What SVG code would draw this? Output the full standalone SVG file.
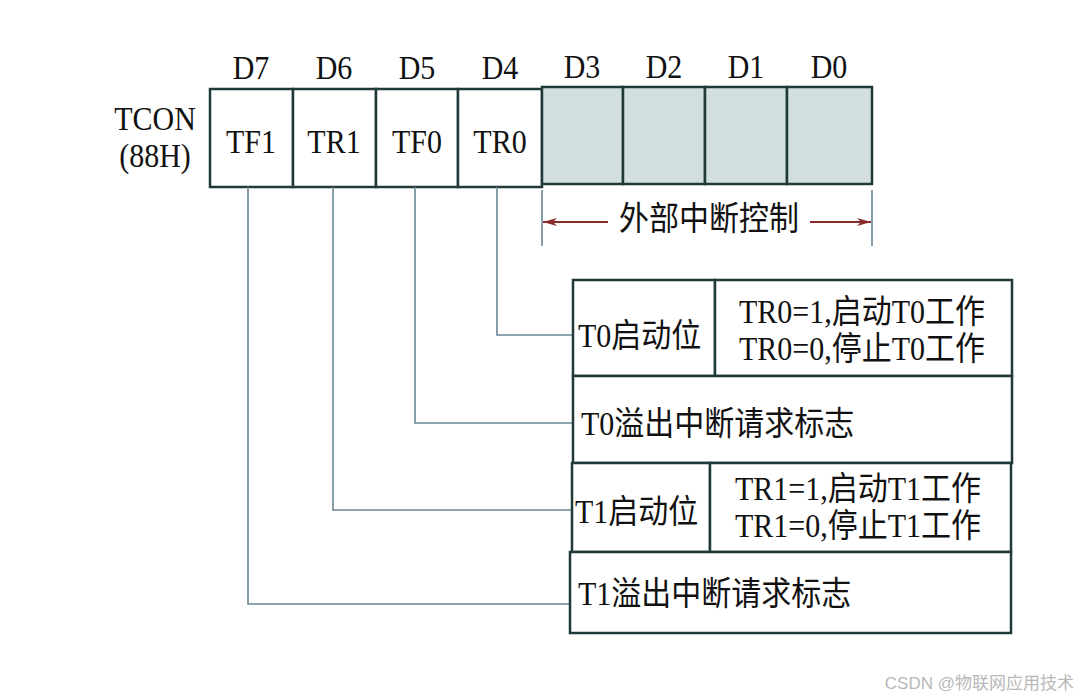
<svg xmlns="http://www.w3.org/2000/svg" width="1082" height="699" viewBox="0 0 1082 699">
<defs>
<style>
.t{font-family:"Liberation Serif","Noto Sans CJK SC",serif;font-size:30px;fill:#111;}
.c{text-anchor:middle;}
.box{fill:#fff;stroke:#1f3a38;stroke-width:2.5;}
.sh{fill:#d3dfdf;stroke:#1f3a38;stroke-width:2.5;}
.ln{fill:none;stroke:#6a8796;stroke-width:1.6;}
.ar{fill:none;stroke:#8b2a2a;stroke-width:2;}
</style>
<marker id="ah" viewBox="0 0 14 8" refX="14" refY="4" markerWidth="14" markerHeight="8" markerUnits="userSpaceOnUse" orient="auto-start-reverse">
<path d="M0,0 L14,4 L0,8 L4,4 Z" fill="#8b2a2a"/>
</marker>
</defs>
<rect width="1082" height="699" fill="#fff"/>

<g id="register">
<text class="t" x="155" y="130" text-anchor="middle" transform="matrix(1,0,0,1.15,0,-19.5)">TCON</text>
<text class="t" x="155" y="167" text-anchor="middle" transform="matrix(1,0,0,1.15,0,-25.05)">(88H)</text>
<g class="t c" transform="matrix(1,0,0,1.15,0,-11.85)">
<text x="251" y="79">D7</text>
<text x="334" y="79">D6</text>
<text x="417" y="79">D5</text>
<text x="500" y="79">D4</text>
<text x="582" y="78">D3</text>
<text x="664" y="78">D2</text>
<text x="746" y="78">D1</text>
<text x="829" y="78">D0</text>
</g>
<rect class="box" x="210" y="89" width="83" height="98"/>
<rect class="box" x="293" y="89" width="83" height="98"/>
<rect class="box" x="376" y="89" width="82" height="98"/>
<rect class="box" x="458" y="89" width="84" height="98"/>
<rect class="sh" x="542" y="87" width="81" height="97"/>
<rect class="sh" x="623" y="87" width="82" height="97"/>
<rect class="sh" x="705" y="87" width="82" height="97"/>
<rect class="sh" x="787" y="87" width="85" height="97"/>
<g class="t c" transform="matrix(1,0,0,1.15,0,-22.95)">
<text x="251" y="153">TF1</text>
<text x="334" y="153">TR1</text>
<text x="417" y="153">TF0</text>
<text x="500" y="153">TR0</text>
</g>
</g>

<g id="ext-control">
<line class="ln" x1="542" y1="190" x2="542" y2="246"/>
<line class="ln" x1="872" y1="190" x2="872" y2="246"/>
<line class="ar" x1="543" y1="222" x2="608" y2="222" marker-start="url(#ah)"/>
<line class="ar" x1="810" y1="222" x2="871" y2="222" marker-end="url(#ah)"/>
<text class="t c" x="709" y="230" transform="matrix(1,0,0,1.1,0,-23)">外部中断控制</text>
</g>

<g id="connectors">
<polyline class="ln" points="497,187 497,335 572,335"/>
<polyline class="ln" points="415,187 415,423 572,423"/>
<polyline class="ln" points="333,187 333,510 571,510"/>
<polyline class="ln" points="248,187 248,604 570,604"/>
</g>

<g id="t0-start">
<rect class="box" x="573" y="280" width="142" height="96"/>
<rect class="box" x="715" y="280" width="297" height="96"/>
<text class="t" x="578" y="347" transform="matrix(1,0,0,1.1,0,-34.7)">T0启动位</text>
<text class="t c" x="862" y="323" transform="matrix(1,0,0,1.1,0,-32.3)">TR0=1,启动T0工作</text>
<text class="t c" x="862" y="360" transform="matrix(1,0,0,1.1,0,-36)">TR0=0,停止T0工作</text>
</g>
<g id="t0-overflow">
<rect class="box" x="573" y="376" width="439" height="87"/>
<text class="t" x="581" y="435" transform="matrix(1,0,0,1.1,0,-43.5)">T0溢出中断请求标志</text>
</g>
<g id="t1-start">
<rect class="box" x="572" y="463" width="138" height="89"/>
<rect class="box" x="710" y="463" width="301" height="89"/>
<text class="t" x="575" y="523" transform="matrix(1,0,0,1.1,0,-52.3)">T1启动位</text>
<text class="t c" x="858" y="500" transform="matrix(1,0,0,1.1,0,-50)">TR1=1,启动T1工作</text>
<text class="t c" x="858" y="537" transform="matrix(1,0,0,1.1,0,-53.7)">TR1=0,停止T1工作</text>
</g>
<g id="t1-overflow">
<rect class="box" x="570" y="552" width="441" height="81"/>
<text class="t" x="578" y="605" transform="matrix(1,0,0,1.1,0,-60.5)">T1溢出中断请求标志</text>
</g>

<text x="1074" y="689" text-anchor="end" style="font-family:'Liberation Sans','Noto Sans CJK SC',sans-serif;font-size:17px;fill:#b8b8b8;">CSDN @物联网应用技术</text>
</svg>
